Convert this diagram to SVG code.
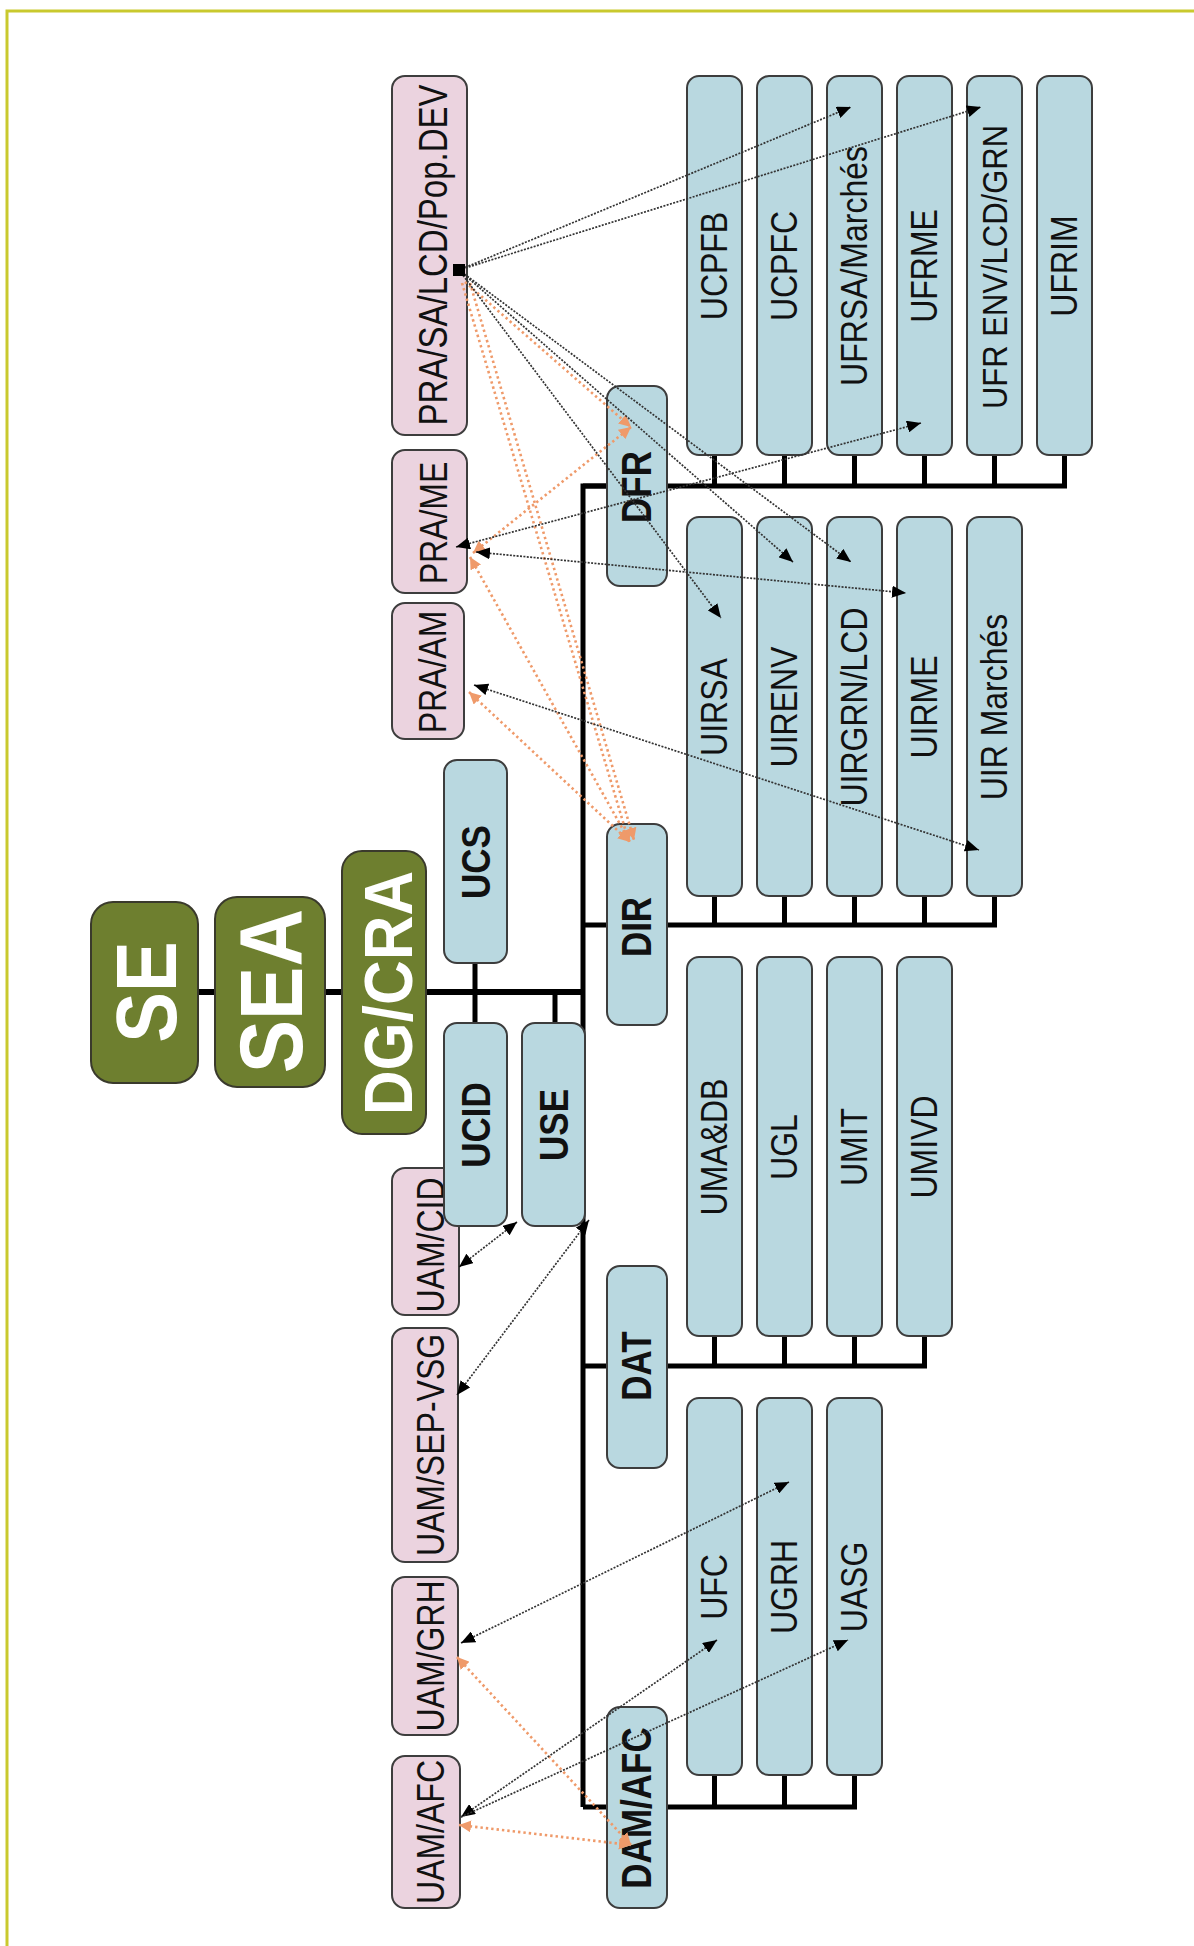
<svg xmlns="http://www.w3.org/2000/svg" width="1194" height="1946" viewBox="0 0 1194 1946">
<style>
.pink{fill:#ebd3df;stroke:#3d3d3d;stroke-width:2}
.blue{fill:#b9d8e0;stroke:#3d3d3d;stroke-width:2}
.green{fill:#6e7f2f;stroke:#3a3a2c;stroke-width:2}
.t{font-family:"Liberation Sans",Arial,sans-serif;font-size:32px;fill:#111;text-anchor:middle}
.b{font-weight:bold;font-size:35px}
.g{font-weight:bold;fill:#fff}
.tree{stroke:#000;fill:none;stroke-linejoin:miter}
.blk{stroke:#333;stroke-width:1.7;stroke-dasharray:2 1.4;fill:none}
.org{stroke:#ef9a6a;stroke-width:2.6;stroke-dasharray:2.4 3;fill:none}
</style>
<defs>
<marker id="ab" viewBox="0 0 14 12" refX="14" refY="6" markerWidth="14" markerHeight="12" markerUnits="userSpaceOnUse" orient="auto-start-reverse"><path d="M0,0 L14,6 L0,12 z" fill="#000"/></marker>
<marker id="ao" viewBox="0 0 12 12" refX="12" refY="6" markerWidth="12" markerHeight="12" markerUnits="userSpaceOnUse" orient="auto-start-reverse"><path d="M0,0 L12,6 L0,12 z" fill="#ef9a6a"/></marker>
</defs>
<rect width="1194" height="1946" fill="#fff"/>
<path d="M7,1946 V11 H1194" fill="none" stroke="#c9c92e" stroke-width="3"/>

<g id="tree-connectors" class="tree">
<path d="M145,992 H583" stroke-width="6"/>
<path d="M475,962 V1023 M555,992 V1023" stroke-width="5"/>
<path d="M668,486 H583 V1807" stroke-width="5"/>
<path d="M583,486 H1064.5 V455 M714.5,486 V455 M784.5,486 V455 M854.5,486 V455 M924.5,486 V455 M994.5,486 V455" stroke-width="5"/>
<path d="M583,925 H994.5 V896 M714.5,925 V896 M784.5,925 V896 M854.5,925 V896 M924.5,925 V896" stroke-width="5"/>
<path d="M583,1366 H924.5 V1336 M714.5,1366 V1336 M784.5,1366 V1336 M854.5,1366 V1336" stroke-width="5"/>
<path d="M583,1807 H854.5 V1775 M714.5,1807 V1775 M784.5,1807 V1775" stroke-width="5"/>
</g>

<g id="SE"><rect class="green" x="91" y="902" width="107" height="181" rx="22"/><text class="t g" style="font-size:76px" transform="translate(176,992) rotate(-90) scale(1,1.12)">SE</text></g>
<g id="SEA"><rect class="green" x="215" y="897" width="110" height="190" rx="22"/><text class="t g" style="font-size:80px" transform="translate(302,991) rotate(-90) scale(1,1.12)">SEA</text></g>
<g id="DGCRA"><rect class="green" x="342" y="851" width="84" height="283" rx="20"/><text class="t g" style="font-size:62px" transform="translate(412,993) rotate(-90) scale(1,1.12)">DG/CRA</text></g>

<g id="PRA-SA"><rect class="pink" x="392" y="76" width="75" height="359" rx="13"/><text class="t" style="font-size:33px" transform="translate(447,255) rotate(-90) scale(1,1.22)">PRA/SA/LCD/Pop.DEV</text></g>
<g id="PRA-ME"><rect class="pink" x="392" y="450" width="75" height="143" rx="13"/><text class="t" transform="translate(447,523) rotate(-90) scale(1,1.22)">PRA/ME</text></g>
<g id="PRA-AM"><rect class="pink" x="392" y="603" width="72" height="136" rx="13"/><text class="t" transform="translate(446,672) rotate(-90) scale(1,1.22)">PRA/AM</text></g>
<g id="UAM-CID"><rect class="pink" x="392" y="1168" width="67" height="147" rx="13"/><text class="t" transform="translate(444,1245) rotate(-90) scale(1,1.22)">UAM/CID</text></g>
<g id="UAM-SEP"><rect class="pink" x="392" y="1328" width="66" height="234" rx="13"/><text class="t" transform="translate(444,1445) rotate(-90) scale(1,1.22)">UAM/SEP-VSG</text></g>
<g id="UAM-GRH"><rect class="pink" x="392" y="1577" width="66" height="158" rx="13"/><text class="t" transform="translate(444,1656) rotate(-90) scale(1,1.22)">UAM/GRH</text></g>
<g id="UAM-AFC"><rect class="pink" x="392" y="1756" width="68" height="152" rx="13"/><text class="t" transform="translate(444,1832) rotate(-90) scale(1,1.22)">UAM/AFC</text></g>

<g id="UCS"><rect class="blue" x="444" y="760" width="63" height="203" rx="13"/><text class="t b" transform="translate(490,862) rotate(-90) scale(1,1.15)">UCS</text></g>
<g id="UCID"><rect class="blue" x="444" y="1023" width="63" height="203" rx="13"/><text class="t b" transform="translate(490,1125) rotate(-90) scale(1,1.15)">UCID</text></g>
<g id="USE"><rect class="blue" x="522" y="1023" width="63" height="203" rx="13"/><text class="t b" transform="translate(568,1125) rotate(-90) scale(1,1.15)">USE</text></g>

<g id="DFR"><rect class="blue" x="607" y="386" width="60" height="200" rx="13"/><text class="t b" transform="translate(651,487) rotate(-90) scale(1,1.2)">DFR</text></g>
<g id="DIR"><rect class="blue" x="607" y="824" width="60" height="201" rx="13"/><text class="t b" transform="translate(651,927) rotate(-90) scale(1,1.2)">DIR</text></g>
<g id="DAT"><rect class="blue" x="607" y="1266" width="60" height="202" rx="13"/><text class="t b" transform="translate(651,1366) rotate(-90) scale(1,1.2)">DAT</text></g>
<g id="DAMAFC"><rect class="blue" x="607" y="1707" width="60" height="201" rx="13"/><text class="t b" transform="translate(651,1808) rotate(-90) scale(1,1.2)">DAM/AFC</text></g>

<g id="UCPFB"><rect class="blue" x="687" y="76" width="55" height="379" rx="12"/><text class="t" transform="translate(727,266) rotate(-90) scale(1,1.15)">UCPFB</text></g>
<g id="UCPFC"><rect class="blue" x="757" y="76" width="55" height="379" rx="12"/><text class="t" transform="translate(797,266) rotate(-90) scale(1,1.15)">UCPFC</text></g>
<g id="UFRSA"><rect class="blue" x="827" y="76" width="55" height="379" rx="12"/><text class="t" transform="translate(867,266) rotate(-90) scale(1,1.15)">UFRSA/Marchés</text></g>
<g id="UFRME"><rect class="blue" x="897" y="76" width="55" height="379" rx="12"/><text class="t" transform="translate(937,266) rotate(-90) scale(1,1.15)">UFRME</text></g>
<g id="UFRENV"><rect class="blue" x="967" y="76" width="55" height="379" rx="12"/><text class="t" style="font-size:31px" transform="translate(1007,267) rotate(-90) scale(1,1.15)">UFR ENV/LCD/GRN</text></g>
<g id="UFRIM"><rect class="blue" x="1037" y="76" width="55" height="379" rx="12"/><text class="t" transform="translate(1077,266) rotate(-90) scale(1,1.15)">UFRIM</text></g>

<g id="UIRSA"><rect class="blue" x="687" y="517" width="55" height="379" rx="12"/><text class="t" transform="translate(727,707) rotate(-90) scale(1,1.15)">UIRSA</text></g>
<g id="UIRENV"><rect class="blue" x="757" y="517" width="55" height="379" rx="12"/><text class="t" transform="translate(797,707) rotate(-90) scale(1,1.15)">UIRENV</text></g>
<g id="UIRGRN"><rect class="blue" x="827" y="517" width="55" height="379" rx="12"/><text class="t" transform="translate(867,707) rotate(-90) scale(1,1.15)">UIRGRN/LCD</text></g>
<g id="UIRME"><rect class="blue" x="897" y="517" width="55" height="379" rx="12"/><text class="t" transform="translate(937,707) rotate(-90) scale(1,1.15)">UIRME</text></g>
<g id="UIRMARCHES"><rect class="blue" x="967" y="517" width="55" height="379" rx="12"/><text class="t" transform="translate(1007,707) rotate(-90) scale(1,1.15)">UIR Marchés</text></g>

<g id="UMADB"><rect class="blue" x="687" y="957" width="55" height="379" rx="12"/><text class="t" transform="translate(727,1147) rotate(-90) scale(1,1.15)">UMA&amp;DB</text></g>
<g id="UGL"><rect class="blue" x="757" y="957" width="55" height="379" rx="12"/><text class="t" transform="translate(797,1147) rotate(-90) scale(1,1.15)">UGL</text></g>
<g id="UMIT"><rect class="blue" x="827" y="957" width="55" height="379" rx="12"/><text class="t" transform="translate(867,1147) rotate(-90) scale(1,1.15)">UMIT</text></g>
<g id="UMIVD"><rect class="blue" x="897" y="957" width="55" height="379" rx="12"/><text class="t" transform="translate(937,1147) rotate(-90) scale(1,1.15)">UMIVD</text></g>

<g id="UFC"><rect class="blue" x="687" y="1398" width="55" height="377" rx="12"/><text class="t" transform="translate(727,1587) rotate(-90) scale(1,1.15)">UFC</text></g>
<g id="UGRH"><rect class="blue" x="757" y="1398" width="55" height="377" rx="12"/><text class="t" transform="translate(797,1587) rotate(-90) scale(1,1.15)">UGRH</text></g>
<g id="UASG"><rect class="blue" x="827" y="1398" width="55" height="377" rx="12"/><text class="t" transform="translate(867,1587) rotate(-90) scale(1,1.15)">UASG</text></g>

<g id="arrow-connectors">
<path class="org" d="M465,282 L631,427" marker-end="url(#ao)"/>
<path class="org" d="M462,283 L629,842" marker-end="url(#ao)"/>
<path class="org" d="M470,283 L634,840" marker-end="url(#ao)"/>
<path class="org" d="M473,553 L631,427" marker-start="url(#ao)" marker-end="url(#ao)"/>
<path class="org" d="M470,557 L630,842" marker-start="url(#ao)" marker-end="url(#ao)"/>
<path class="org" d="M469,692 L630,842" marker-start="url(#ao)" marker-end="url(#ao)"/>
<path class="org" d="M457,1657 L631,1845" marker-start="url(#ao)" marker-end="url(#ao)"/>
<path class="org" d="M459,1825 L631,1845" marker-start="url(#ao)" marker-end="url(#ao)"/>

<path class="blk" d="M459,270 L851,107" marker-end="url(#ab)"/>
<path class="blk" d="M459,270 L981,107" marker-end="url(#ab)"/>
<path class="blk" d="M459,270 L721,618" marker-end="url(#ab)"/>
<path class="blk" d="M459,270 L793,562" marker-end="url(#ab)"/>
<path class="blk" d="M459,270 L851,562" marker-end="url(#ab)"/>
<rect x="453" y="264" width="12" height="12" fill="#000"/>
<path class="blk" d="M456,547 L921,423" marker-start="url(#ab)" marker-end="url(#ab)"/>
<path class="blk" d="M476,552 L906,593" marker-start="url(#ab)" marker-end="url(#ab)"/>
<path class="blk" d="M474,685 L979,850" marker-start="url(#ab)" marker-end="url(#ab)"/>
<path class="blk" d="M459,1267 L517,1222" marker-start="url(#ab)" marker-end="url(#ab)"/>
<path class="blk" d="M457,1395 L589,1220" marker-start="url(#ab)" marker-end="url(#ab)"/>
<path class="blk" d="M461,1643 L789,1482" marker-start="url(#ab)" marker-end="url(#ab)"/>
<path class="blk" d="M461,1817 L717,1640" marker-start="url(#ab)" marker-end="url(#ab)"/>
<path class="blk" d="M461,1817 L848,1640" marker-end="url(#ab)"/>
</g>
</svg>
